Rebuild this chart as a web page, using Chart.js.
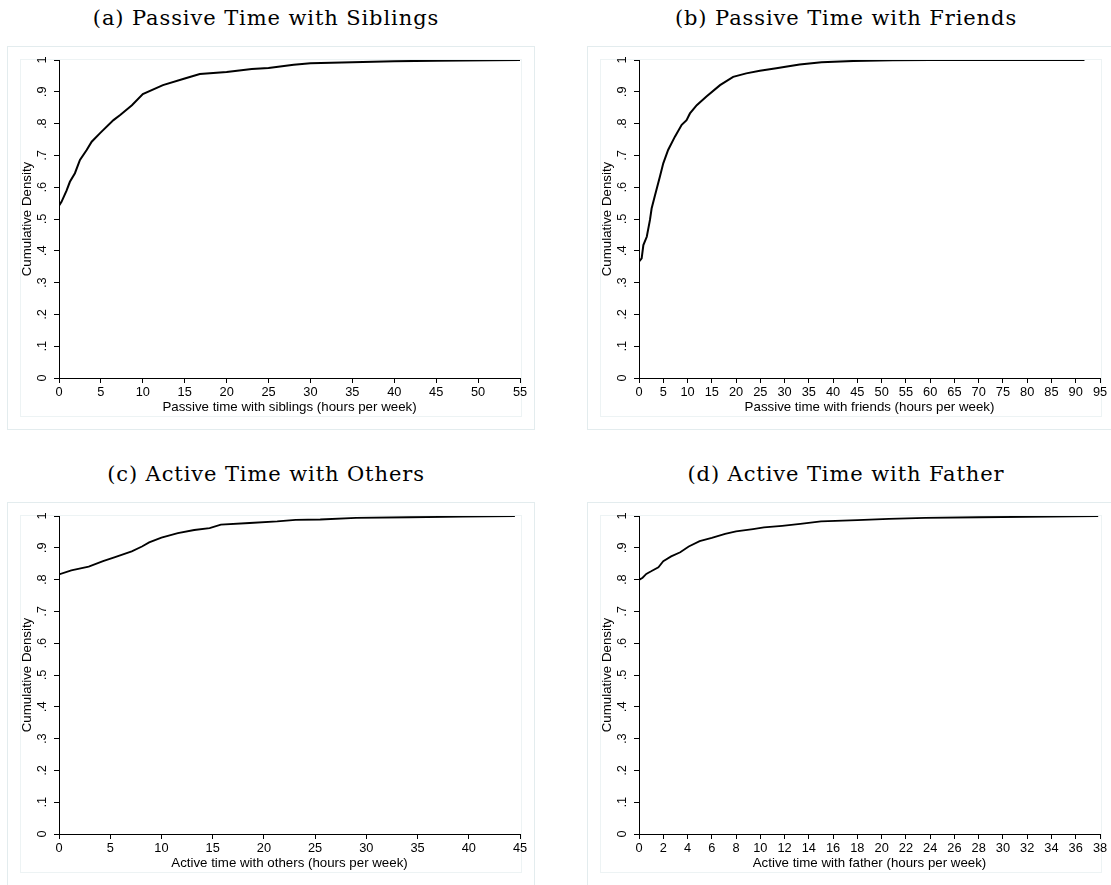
<!DOCTYPE html>
<html>
<head>
<meta charset="utf-8">
<script src="https://cdn.jsdelivr.net/npm/chart.js@4.4.1/dist/chart.umd.min.js"></script>
<style>
  html, body { margin: 0; padding: 0; background: #fff; overflow: hidden; }
  body { width: 1111px; height: 885px; position: relative; }
  .title { position: absolute; width: 520px; text-align: center; font-family: "DejaVu Serif", serif; font-size: 21px; line-height: 24px; color: #000; letter-spacing: 0.9px; white-space: nowrap; }
  .box { position: absolute; box-sizing: border-box; border: 1px solid #e3ecee; }
  .inner { position: absolute; box-sizing: border-box; border: 1px solid #edf3f4; }
  canvas { position: absolute; }
</style>
</head>
<body>
<script>
// ---- data ----
const panelTitles = ['(a) Passive Time with Siblings', '(b) Passive Time with Friends',
                     '(c) Active Time with Others', '(d) Active Time with Father'];
const xAxisTitles = ['Passive time with siblings (hours per week)', 'Passive time with friends (hours per week)',
                     'Active time with others (hours per week)', 'Active time with father (hours per week)'];
const yAxisTitle = 'Cumulative Density';
const yTickLabels = ['0', '.1', '.2', '.3', '.4', '.5', '.6', '.7', '.8', '.9', '1'];
const xMax = [55, 95, 45, 38];
const xStep = [5, 5, 5, 2];

const siblingsHours = [0, 0.3, 0.9, 1.3, 1.9, 2.5, 3.3, 3.9, 4.9, 6.5, 7.3, 8.7, 10.0, 12.4, 15.0, 16.8, 20, 23, 25, 28, 30, 35, 40, 45, 55];
const siblingsCdf   = [0.542, 0.554, 0.589, 0.617, 0.644, 0.686, 0.717, 0.743, 0.770, 0.811, 0.827, 0.858, 0.893, 0.921, 0.942, 0.956, 0.962, 0.972, 0.975, 0.985, 0.990, 0.993, 0.996, 0.998, 1.0];

const friendsHours = [0, 0.55, 0.9, 1.6, 2.26, 2.6, 3.3, 4.3, 5.0, 6.0, 7.4, 8.8, 9.8, 10.5, 11.9, 13.9, 16.7, 19.4, 22.1, 24.9, 28.3, 30.2, 33.1, 37.6, 44.2, 52.3, 60, 91.8];
const friendsCdf   = [0.366, 0.376, 0.418, 0.444, 0.497, 0.533, 0.575, 0.633, 0.675, 0.717, 0.759, 0.796, 0.811, 0.832, 0.858, 0.885, 0.921, 0.947, 0.958, 0.966, 0.974, 0.979, 0.986, 0.993, 0.997, 0.999, 1.0, 1.0];

const othersHours = [0, 1.2, 2.9, 4.3, 5.4, 7.1, 8.1, 8.8, 10.0, 11.6, 13.2, 14.7, 15.8, 18.6, 21.3, 23.1, 25.5, 29.0, 34.2, 39.4, 44.5];
const othersCdf   = [0.816, 0.829, 0.841, 0.858, 0.870, 0.889, 0.904, 0.917, 0.932, 0.946, 0.956, 0.962, 0.973, 0.978, 0.983, 0.988, 0.989, 0.994, 0.996, 0.998, 1.0];

const fatherHours = [0, 0.3, 0.6, 1.0, 1.6, 2.0, 2.65, 3.4, 4.1, 5.0, 6.0, 7.1, 8.0, 9.4, 10.3, 11.8, 13.3, 15.0, 18.0, 20.6, 23.6, 28.0, 37.85];
const fatherCdf   = [0.799, 0.806, 0.818, 0.826, 0.839, 0.858, 0.873, 0.886, 0.904, 0.921, 0.931, 0.944, 0.952, 0.959, 0.964, 0.969, 0.975, 0.983, 0.987, 0.991, 0.994, 0.996, 1.0];

const seriesX = [siblingsHours, friendsHours, othersHours, fatherHours];
const seriesY = [siblingsCdf, friendsCdf, othersCdf, fatherCdf];

// ---- layout ----
const boxLeft = [7, 587, 7, 587];
const boxTop = [46, 46, 502, 502];
const boxW = 528, boxH = 384;
const sans = '"Liberation Sans", Arial, Helvetica, sans-serif';

function addEl(tag, cls, l, t, w, h) {
  const el = document.createElement(tag);
  if (cls) el.className = cls;
  el.style.left = l + 'px';
  el.style.top = t + 'px';
  if (w != null) el.style.width = w + 'px';
  if (h != null) el.style.height = h + 'px';
  document.body.appendChild(el);
  return el;
}

for (let i = 0; i < 4; i++) {
  const L = boxLeft[i], T = boxTop[i];
  const t = addEl('div', 'title', L - 1, T - 40, 520);
  t.textContent = panelTitles[i];
  addEl('div', 'box', L, T, boxW, boxH);
  addEl('div', 'inner', L + 13, T + 13, 502, 358);
  const cv = addEl('canvas', null, L, T);
  cv.width = boxW; cv.height = boxH;

  const pts = seriesX[i].map((x, k) => ({ x: x, y: seriesY[i][k] }));

  new Chart(cv, {
    type: 'line',
    data: {
      datasets: [{
        data: pts,
        borderColor: '#000',
        borderWidth: i < 2 ? 2 : 1.8,
        pointRadius: 0,
        tension: 0,
        fill: false
      }]
    },
    options: {
      responsive: false,
      animation: false,
      events: [],
      layout: { padding: { left: 12, top: 14, right: 15, bottom: 15 } },
      plugins: { legend: { display: false }, tooltip: { enabled: false } },
      scales: {
        x: {
          type: 'linear', min: 0, max: xMax[i],
          ticks: { stepSize: xStep[i], autoSkip: false, maxRotation: 0, color: '#000', padding: 2,
                   font: { size: 12.8, family: sans } },
          grid: { drawOnChartArea: false, drawTicks: true, tickLength: 5, tickColor: '#000', color: '#000' },
          border: { display: true, color: '#000', width: 1 },
          title: { display: true, text: xAxisTitles[i], color: '#000', padding: 0,
                   font: { size: 13.3, family: sans } },
          afterFit: s => { s.height = 37; }
        },
        y: {
          type: 'linear', min: 0, max: 1,
          ticks: { stepSize: 0.1, minRotation: 90, maxRotation: 90, crossAlign: 'center', padding: 6,
                   color: '#000', font: { size: 12.8, family: sans },
                   callback: (v, idx) => yTickLabels[idx] },
          grid: { drawOnChartArea: false, drawTicks: true, tickLength: 5, tickColor: '#000', color: '#000' },
          border: { display: true, color: '#000', width: 1 },
          title: { display: true, text: yAxisTitle, color: '#000', padding: 0,
                   font: { size: 13.3, family: sans } },
          afterFit: s => { s.width = 40; }
        }
      }
    }
  });
}
</script>
</body>
</html>
